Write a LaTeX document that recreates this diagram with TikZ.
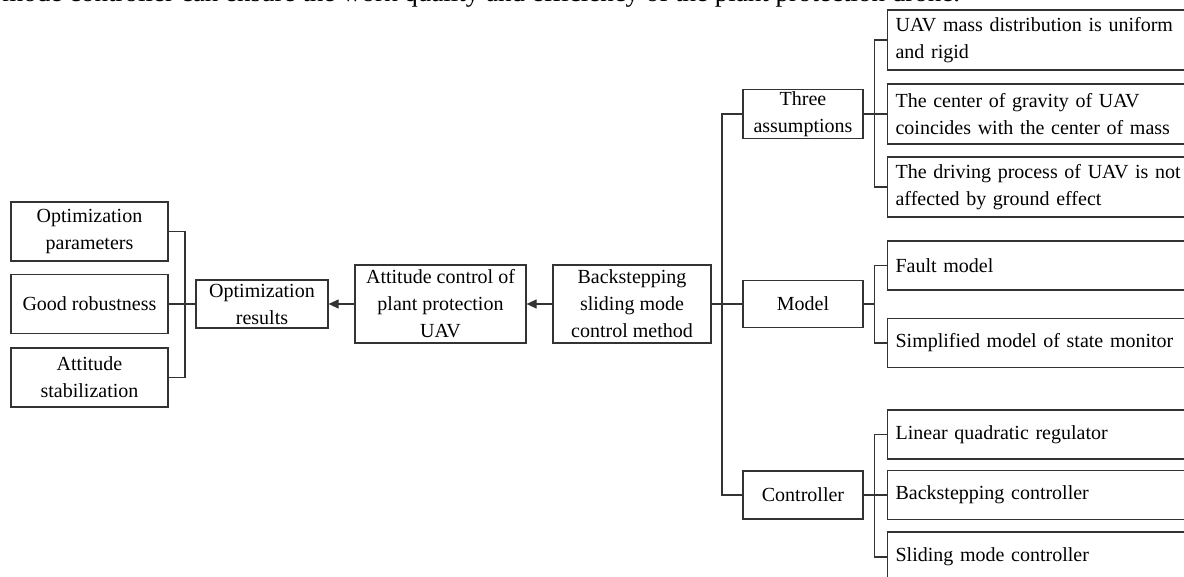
\documentclass[tikz,border=0pt]{standalone}
\usepackage{fontspec}
\setmainfont{Liberation Serif}
\usetikzlibrary{arrows.meta,positioning}

\begin{document}
\begin{tikzpicture}[
        x=0.5pt, y=-0.5pt,
        font=\fontsize{10}{13.5}\selectfont,
        block/.style={
            draw=black!80,
            line width=0.6pt,
            align=center,
            inner sep=1pt
        },
        result/.style={
            block,
            minimum width=78.5pt,
            minimum height=29.5pt
        },
        stage/.style={
            block,
            minimum height=39pt
        },
        branch/.style={
            block,
            minimum width=60pt,
            minimum height=23.5pt
        },
        leaf/.style={
            block,
            anchor=west,
            align=left,
            text width=152pt,
            inner xsep=4pt,
            minimum height=24.5pt
        },
        link/.style={line width=0.6pt, draw=black!80},
        flow/.style={link, -{Triangle[length=5pt,width=4.5pt]}}
    ]
        \useasboundingbox (0,0) rectangle (1184,577);

        % Caption line cut off at the top
        \node[anchor=base west, inner sep=0pt,
            font=\fontsize{13.5}{16}\selectfont] (caption) at (2,2)
            {mode controller can ensure the work quality and efficiency of the plant protection drone.};

        % Optimization results
        \node[result] (optpar) at (89.5,231.5) {Optimization\\parameters};
        \node[result] (robust) at (89.5,304) {Good robustness};
        \node[result] (stab) at (89.5,377.5) {Attitude\\stabilization};

        \node[block, minimum width=66pt, minimum height=24pt] (optres)
            at (262,304) {Optimization\\results};

        \node[stage, minimum width=85.5pt] (attctl) at (440.5,304)
            {Attitude control of\\plant protection\\UAV};
        \node[stage, minimum width=79pt] (back) at (632,304)
            {Backstepping\\sliding mode\\control method};

        % Method branches
        \node[branch, minimum height=22pt] (three) at (803,114)
            {Three\\assumptions};
        \node[branch] (model) at (803,304) {Model};
        \node[branch, minimum height=24pt] (ctrl) at (803,495) {Controller};

        \node[leaf, minimum height=30pt] (a1) at (887,40)
            {UAV mass distribution is uniform\\and rigid};
        \node[leaf, minimum height=30pt] (a2) at (887,114)
            {The center of gravity of UAV\\coincides with the center of mass};
        \node[leaf, minimum height=30pt] (a3) at (887,187)
            {The driving process of UAV is not\\affected by ground effect};

        \node[leaf] (fault) at (887,265.5) {Fault model};
        \node[leaf] (simp) at (887,343) {Simplified model of state monitor};

        \node[leaf] (lqr) at (887,434.5) {Linear quadratic regulator};
        \node[leaf] (bsc) at (887,495) {Backstepping controller};
        \node[leaf, minimum height=25pt] (smc) at (887,557)
            {Sliding mode controller};

        \coordinate (join) at (185,304);
        \coordinate (trunk) at (722,304);

        \draw[link] (optpar.east) -| (join) |- (stab.east);
        \draw[link] (robust.east) -- (optres.west);
        \draw[flow] (attctl.west) -- (optres.east);
        \draw[flow] (back.west) -- (attctl.east);

        \draw[link] (back.east) -- (model.west);
        \draw[link] (three.west) -| (trunk) |- (ctrl.west);

        \draw[link] (three.east) -- ++(11,0) |- (a1.west);
        \draw[link] (three.east) -- (a2.west);
        \draw[link] (three.east) -- ++(11,0) |- (a3.west);

        \draw[link] (model.east) -- ++(11,0) |- (fault.west);
        \draw[link] (model.east) -- ++(11,0) |- (simp.west);

        \draw[link] (ctrl.east) -- ++(11,0) |- (lqr.west);
        \draw[link] (ctrl.east) -- (bsc.west);
        \draw[link] (ctrl.east) -- ++(11,0) |- (smc.west);
    \end{tikzpicture}
\end{document}
